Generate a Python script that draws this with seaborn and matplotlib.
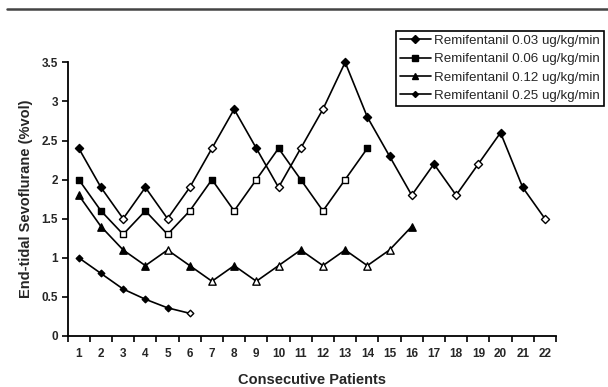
import numpy as np
import pandas as pd
import matplotlib
matplotlib.use("Agg")
import matplotlib.pyplot as plt
from matplotlib.lines import Line2D
import seaborn as sns

# ---- data ----
patients_003 = list(range(1, 23))
values_003 = [2.4, 1.9, 1.5, 1.9, 1.5, 1.9, 2.4, 2.9, 2.4, 1.9, 2.4,
              2.9, 3.5, 2.8, 2.3, 1.8, 2.2, 1.8, 2.2, 2.6, 1.9, 1.5]
filled_003 = [1, 1, 0, 1, 0, 0, 0, 1, 1, 0, 0, 0, 1, 1, 1, 0, 1, 0, 0, 1, 1, 0]

patients_006 = list(range(1, 15))
values_006 = [2.0, 1.6, 1.3, 1.6, 1.3, 1.6, 2.0, 1.6, 2.0, 2.4, 2.0, 1.6, 2.0, 2.4]
filled_006 = [1, 1, 0, 1, 0, 0, 1, 0, 0, 1, 1, 0, 0, 1]

patients_012 = list(range(1, 17))
values_012 = [1.8, 1.4, 1.1, 0.9, 1.1, 0.9, 0.7, 0.9, 0.7, 0.9, 1.1, 0.9,
              1.1, 0.9, 1.1, 1.4]
filled_012 = [1, 1, 1, 1, 0, 1, 0, 1, 0, 0, 1, 0, 1, 0, 0, 1]

patients_025 = list(range(1, 7))
values_025 = [1.0, 0.8, 0.6, 0.47, 0.36, 0.29]
filled_025 = [1, 1, 1, 1, 1, 0]

series_names = ["Remifentanil 0.03 ug/kg/min", "Remifentanil 0.06 ug/kg/min",
                "Remifentanil 0.12 ug/kg/min", "Remifentanil 0.25 ug/kg/min"]
x_ticklabels = [str(i) for i in range(1, 23)]
y_ticks = [0, 0.5, 1, 1.5, 2, 2.5, 3, 3.5]
y_ticklabels = ["0", "0.5", "1", "1.5", "2", "2.5", "3", "3.5"]

frames = []
for name, p, v, f in zip(series_names,
                         [patients_003, patients_006, patients_012, patients_025],
                         [values_003, values_006, values_012, values_025],
                         [filled_003, filled_006, filled_012, filled_025]):
    frames.append(pd.DataFrame({"patient": p, "value": v, "filled": f, "series": name}))
df = pd.concat(frames, ignore_index=True)

markers = {series_names[0]: "D", series_names[1]: "s",
           series_names[2]: "^", series_names[3]: "D"}
msizes = {series_names[0]: 17, series_names[1]: 22,
          series_names[2]: 28, series_names[3]: 11}

sns.set_style("white")
plt.rcParams["font.family"] = ["Liberation Sans", "DejaVu Sans"]

fig = plt.figure(figsize=(6.08, 3.87), dpi=100)
ax = fig.add_axes([0.1113, 0.1318, 0.8032, 0.7072])

sns.lineplot(data=df, x="patient", y="value", hue="series",
             palette=["black"] * 4, linewidth=1.2, legend=False,
             estimator=None, sort=True, ax=ax, zorder=2, clip_on=False)

for name in series_names:
    sub = df[df["series"] == name]
    for fill, fc in [(1, "black"), (0, "white")]:
        s2 = sub[sub["filled"] == fill]
        if len(s2) == 0:
            continue
        sns.scatterplot(data=s2, x="patient", y="value", marker=markers[name],
                        s=msizes[name], color=fc, edgecolor="black",
                        linewidth=1.0, ax=ax, zorder=3, legend=False,
                        clip_on=False)

ax.set_xlim(0.5, 22.5)
ax.set_ylim(0, 3.5)
ax.set_xticks(range(1, 23))
ax.set_xticklabels(x_ticklabels, fontsize=8.5, fontweight="bold")
ax.set_xticks(np.arange(0.5, 23, 1), minor=True)
ax.tick_params(axis="x", which="major", length=0, pad=9)
ax.tick_params(axis="x", which="minor", length=4, width=1.2, direction="out",
               color="black", bottom=True)
ax.set_yticks(y_ticks)
ax.set_yticklabels(y_ticklabels, fontsize=8.5, fontweight="bold")
ax.tick_params(axis="y", length=4, width=1.2, direction="out", color="black",
               left=True, pad=3)

for side in ["top", "right"]:
    ax.spines[side].set_visible(False)
for side in ["left", "bottom"]:
    ax.spines[side].set_color("black")
    ax.spines[side].set_linewidth(1.3)

ax.set_xlabel("Consecutive Patients", fontsize=10.5, fontweight="bold", labelpad=9)
ax.set_ylabel("End-tidal Sevoflurane (%vol)", fontsize=10.5, fontweight="bold",
              labelpad=6)

handles = []
for name in series_names:
    handles.append(Line2D([0], [0], color="black", linewidth=1.2,
                          marker=markers[name],
                          markersize=4 if name != series_names[3] else 3,
                          markerfacecolor="black", markeredgecolor="black"))
leg = fig.legend(handles, series_names, loc="upper left",
                 bbox_to_anchor=(0.652, 0.92), bbox_transform=fig.transFigure,
                 fontsize=9.6, frameon=True, fancybox=False, framealpha=1,
                 edgecolor="black", borderpad=0.28, labelspacing=0.45,
                 handlelength=2.3, handletextpad=0.25, borderaxespad=0)
leg.get_frame().set_linewidth(1.2)

fig.add_artist(Line2D([0.012, 1.0], [0.978, 0.978], color="#444444",
                      linewidth=1.8, transform=fig.transFigure))

fig.savefig("out.png", dpi=100)
